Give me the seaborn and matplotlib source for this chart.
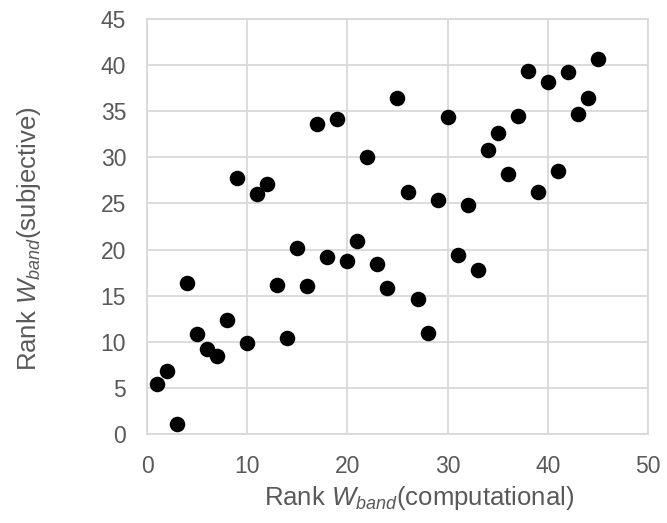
import numpy as np
import pandas as pd
import matplotlib
matplotlib.use("Agg")
import matplotlib.pyplot as plt
import seaborn as sns

# Rangos
rango_computacional = list(range(1, 46))
rango_subjetivo = [5.4, 6.8, 1.1, 16.4, 10.8, 9.2, 8.5, 12.4, 27.8, 9.9,
                   26.0, 27.1, 16.2, 10.4, 20.2, 16.0, 33.6, 19.2, 34.2, 18.8,
                   20.9, 30.0, 18.4, 15.8, 36.4, 26.2, 14.6, 11.0, 25.4, 34.4,
                   19.4, 24.8, 17.8, 30.8, 32.6, 28.2, 34.5, 39.4, 26.2, 38.2,
                   28.5, 39.2, 34.7, 36.4, 40.7]

datos = pd.DataFrame({'comp': rango_computacional, 'subj': rango_subjetivo})

sns.set_style("whitegrid", {'grid.color': '#d9d9d9', 'axes.edgecolor': '#d9d9d9'})
plt.rcParams['font.family'] = ['Liberation Sans', 'DejaVu Sans']
plt.rcParams['mathtext.fontset'] = 'custom'
plt.rcParams['mathtext.it'] = 'Liberation Sans:italic'
plt.rcParams['mathtext.rm'] = 'Liberation Sans'

fig = plt.figure(figsize=(6.67, 5.23), dpi=100)
ax = fig.add_axes([0.2204, 0.1702, 0.7511, 0.7935])

sns.scatterplot(data=datos, x='comp', y='subj', color='black', s=125,
                edgecolor='black', linewidth=0, ax=ax)

ax.set_xlim(0, 50)
ax.set_ylim(0, 45)
ax.set_xticks(range(0, 51, 10))
ax.set_yticks(range(0, 46, 5))
ax.grid(True, color='#d9d9d9', linewidth=1.3)
for lado in ax.spines.values():
    lado.set_color('#d9d9d9')
    lado.set_linewidth(1.3)
ax.tick_params(axis='both', colors='#595959', labelsize=16.5, length=0, pad=15)

ax.set_xlabel(r'Rank $W_{band}$(computational)', fontsize=18.5, color='#595959')
ax.set_ylabel(r'Rank $W_{band}$(subjective)', fontsize=18.5, color='#595959')
# posiciones de las etiquetas como en el original
ax.xaxis.set_label_coords(0.543, -0.155)
ax.xaxis.label.set_va('center')
ax.yaxis.set_label_coords(-0.236, 0.47)
ax.yaxis.label.set_va('center')

plt.savefig('out.png', dpi=100)
plt.close()
